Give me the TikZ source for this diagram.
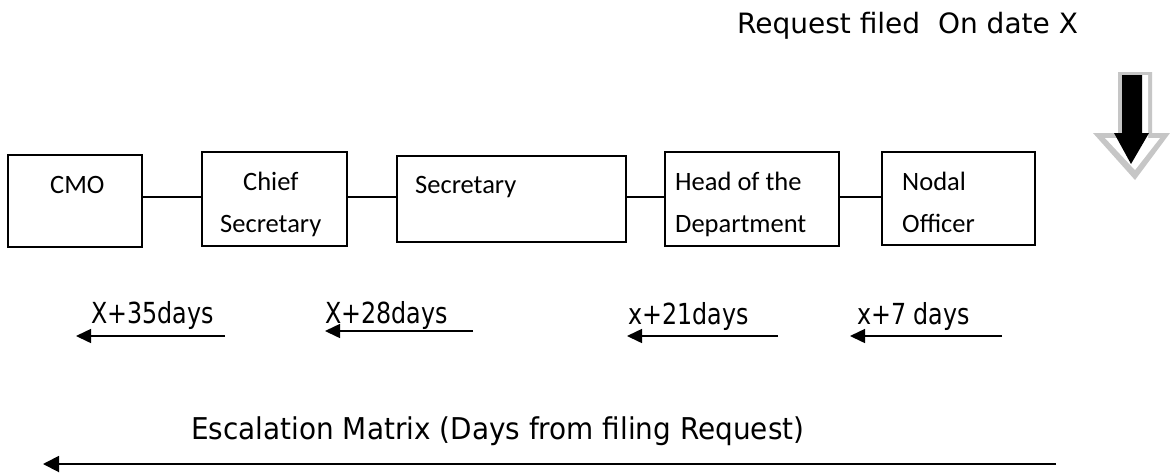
\documentclass[tikz,border=0pt]{standalone}
\usepackage{fontspec}
\usetikzlibrary{arrows.meta}
\newfontfamily\boxfont{Carlito}
\newfontfamily\labfont[FakeStretch=0.82]{DejaVu Sans}
\newfontfamily\escfont[FakeStretch=0.93]{DejaVu Sans}
\newfontfamily\topfont{DejaVu Sans}
\tikzset{
  stage/.style={draw=black, line width=1.7pt, fill=white, inner sep=0pt},
  boxtxt/.style={inner sep=0pt, anchor=base west, font=\boxfont\fontsize{26.5pt}{30pt}\selectfont},
  daytxt/.style={inner sep=0pt, anchor=base west, font=\labfont\fontsize{29pt}{34pt}\selectfont},
  link/.style={line width=1.7pt},
  dayarrow/.style={line width=1.5pt, -{Triangle[length=15pt,width=14pt]}},
  bigarrow/.style={line width=1.9pt, -{Triangle[length=16pt,width=16pt]}}
}
\begin{document}
\begin{tikzpicture}[x=1pt,y=-1pt]
\useasboundingbox[fill=white] (0,0) rectangle (1170,475);

% top text
\node[inner sep=0pt, anchor=base west, font=\topfont\fontsize{28pt}{33pt}\selectfont] (req) at (737,33) {Request filed\ \ On date X};

% down arrow (3D outlined)
\fill[gray!45] (1118,72) -- (1152,72) -- (1152,133) -- (1170,133) -- (1135,180) -- (1093,133) -- (1118,133) -- cycle;
\fill[white] (1122,75) -- (1148,75) -- (1148,138) -- (1160,138) -- (1135,170) -- (1105,138) -- (1122,138) -- cycle;
\fill[black] (1122,75) -- (1142,75) -- (1142,133) -- (1149,133) -- (1131,164) -- (1114,133) -- (1122,133) -- cycle;

% boxes
\node[stage, minimum width=134pt, minimum height=92pt] (cmo) at (75,201) {};
\node[stage, minimum width=145pt, minimum height=94pt] (chief) at (274.5,199) {};
\node[stage, minimum width=229pt, minimum height=86pt] (sec) at (511.5,199) {};
\node[stage, minimum width=174pt, minimum height=94pt] (hod) at (752,199) {};
\node[stage, minimum width=153pt, minimum height=93pt] (nodal) at (958.5,198.5) {};

\node[boxtxt] (t1) at (50,193) {CMO};
\node[boxtxt] (t2a) at (243,190) {Chief};
\node[boxtxt] (t2b) at (220,232) {Secretary};
\node[boxtxt] (t3) at (415,193) {Secretary};
\node[boxtxt] (t4a) at (675,190) {Head of the};
\node[boxtxt] (t4b) at (675,232) {Department};
\node[boxtxt] (t5a) at (902,190) {Nodal};
\node[boxtxt] (t5b) at (902,232) {Officer};

% connectors
\coordinate (lvl) at (0,197);
\draw[link] (cmo.east |- lvl) -- (chief.west |- lvl);
\draw[link] (chief.east |- lvl) -- (sec.west |- lvl);
\draw[link] (sec.east |- lvl) -- (hod.west |- lvl);
\draw[link] (hod.east |- lvl) -- (nodal.west |- lvl);

% day labels and arrows
\node[daytxt] (d35) at (91,323) {X+35days};
\node[daytxt] (d28) at (325,323) {X+28days};
\node[daytxt] (d21) at (628,324) {x+21days};
\node[daytxt] (d7) at (857,324) {x+7 days};

\coordinate (a35s) at (225,336); \coordinate (a35e) at (76,336);
\coordinate (a28s) at (473,331); \coordinate (a28e) at (325,331);
\coordinate (a21s) at (778,336); \coordinate (a21e) at (627,336);
\coordinate (a7s) at (1002,336); \coordinate (a7e) at (850,336);
\draw[dayarrow] (a35s) -- (a35e);
\draw[dayarrow] (a28s) -- (a28e);
\draw[dayarrow] (a21s) -- (a21e);
\draw[dayarrow] (a7s) -- (a7e);

% escalation
\node[inner sep=0pt, anchor=base west, font=\escfont\fontsize{30pt}{35pt}\selectfont] (esc) at (191,439) {Escalation Matrix (Days from filing Request)};
\coordinate (bs) at (1056,464); \coordinate (be) at (43,464);
\draw[bigarrow] (bs) -- (be);
\end{tikzpicture}
\end{document}
